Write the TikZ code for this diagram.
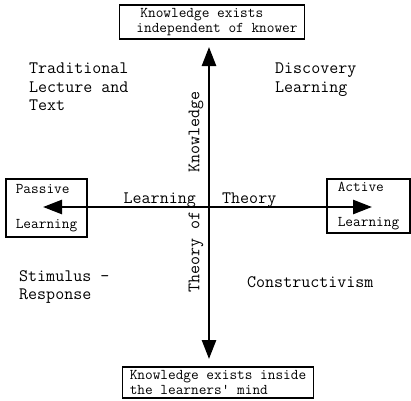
\documentclass[tikz,border=0pt]{standalone}
\usepackage{fontspec}
\usetikzlibrary{arrows.meta}

\begin{document}
\begin{tikzpicture}[x=1pt,y=1pt,
  axis/.style={line width=2.6pt,
    {Triangle[length=19pt,width=14pt]}-{Triangle[length=19pt,width=14pt]}},
  endbox/.style={draw,line width=1.2pt,align=left,inner xsep=7pt,inner ysep=2pt,
    font=\ttfamily\fontsize{14.9}{15.6}\selectfont},
  quadrant/.style={align=left,anchor=north west,inner sep=0pt,
    font=\ttfamily\fontsize{17.5}{18.5}\selectfont},
  axislabel/.style={inner sep=0pt,font=\ttfamily\fontsize{17.5}{18.5}\selectfont}]
  \useasboundingbox (0,0) rectangle (411,400);
  % Tips of the two axes; they meet at (209,193).
  \coordinate (lefttip) at (43,193);
  \coordinate (righttip) at (372,193);
  \coordinate (toptip) at (209,353);
  \coordinate (bottomtip) at (209,41);
  \draw[axis] (lefttip) -- (righttip);
  \draw[axis] (toptip) -- (bottomtip);
  % Ends of the axes.
  \node[endbox,minimum height=34pt] (independent) at (212,378)
    {\hspace*{14pt}Knowledge exists\\\hspace*{10pt}independent of knower};
  \node[endbox,minimum height=31pt] (inside) at (218,17.5)
    {Knowledge exists inside\\the learners' mind};
  \node[endbox,minimum width=81pt,minimum height=58pt] (passive) at (46.5,192)
    {Passive\\[19.5pt]Learning};
  \node[endbox,minimum width=83pt,minimum height=54pt] (active) at (368.5,194)
    {Active\\[19.5pt]Learning};
  % Axis titles.
  \node[axislabel,anchor=base east] (learning) at (196,197) {Learning};
  \node[axislabel,anchor=base west] (theory) at (222,197) {Theory};
  \node[axislabel,rotate=90] (knowledge) at (196,268) {Knowledge};
  \node[axislabel,rotate=90] (theoryof) at (196,148) {Theory of};
  % The four quadrants.
  \node[quadrant] (traditional) at (29,337) {Traditional\\Lecture and\\Text};
  \node[quadrant] (discovery) at (275,337) {Discovery\\Learning};
  \node[quadrant] (stimulus) at (19,130) {Stimulus -\\Response};
  \node[quadrant] (constructivism) at (247,124) {Constructivism};
\end{tikzpicture}
\end{document}
